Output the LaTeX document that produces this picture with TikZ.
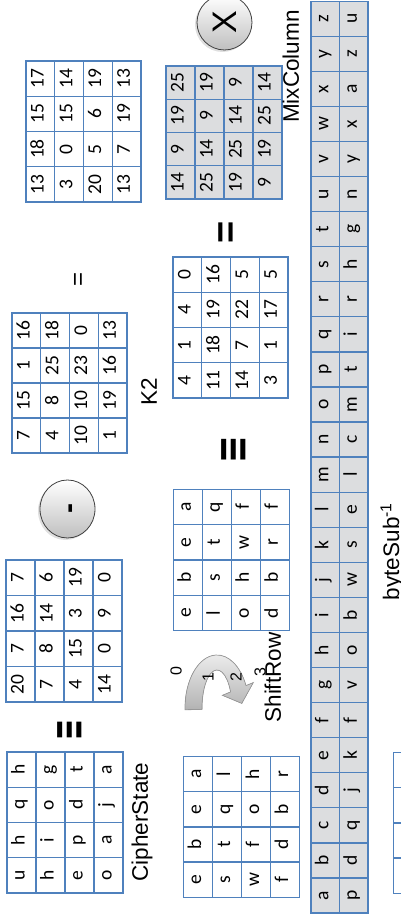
\documentclass[tikz,border=0pt]{standalone}
\usepackage{fontspec}
\setmainfont{Liberation Sans}
\newfontfamily\cellfont{Carlito}
\newfontfamily\symfont{DejaVu Sans}
\usetikzlibrary{shapes.geometric,calc,shadows,arrows.meta}
\definecolor{cellblue}{RGB}{79,129,189}
\definecolor{cellgray}{RGB}{220,221,223}
\tikzset{
  cell/.style={draw=cellblue, line width=1.3pt, inner sep=0pt, anchor=center,
    font=\cellfont\fontsize{19.5}{20}\selectfont, text height=0.64em, text depth=0pt},
  graycell/.style={cell, fill=cellgray},
  whitecell/.style={cell, fill=white},
  lbl/.style={font=\fontsize{22.5}{24}\selectfont, inner sep=0pt, anchor=base},
  rowlbl/.style={font=\fontsize{16}{16}\selectfont, inner sep=0pt, anchor=center},
  opcircle/.style={ellipse, draw=black!75, line width=0.8pt, inner sep=0pt,
    top color=white, bottom color=gray!50,
    drop shadow={opacity=0.25, shadow xshift=-2pt, shadow yshift=-2pt}},
  eqsign/.style={inner sep=0pt, anchor=center},
  eqv/.style={font=\symfont\bfseries\fontsize{44}{44}\selectfont, inner sep=0pt, anchor=center},
}
\newcommand\mygrid[7]{%
  \foreach \rowlist [count=\i] in {#7} {%
    \foreach \val [count=\j] in \rowlist {%
      \node[#6, minimum width=#4 pt, minimum height=#5 pt] (#1-\i-\j)
        at ({#2+(\j-0.5)*#4}, {#3-(\i-0.5)*#5}) {\val};
    }%
  }%
}
\begin{document}
\begin{tikzpicture}[x=1pt,y=1pt,rotate=90,transform shape]
\useasboundingbox (0,0) rectangle (915,400);

% S-box band
\mygrid{sbox}{2}{89}{35.07}{28.5}{graycell}{{a,b,c,d,e,f,g,h,i,j,k,l,m,n,o,p,q,r,s,t,u,v,w,x,y,z},{p,d,q,j,k,f,v,o,b,w,s,e,l,c,m,t,i,r,h,g,n,y,x,a,z,u}}

% CipherState
\mygrid{cs}{22}{393}{35.25}{29}{whitecell}{{u,h,q,h},{h,i,o,g},{e,p,d,t},{o,a,j,a}}
\node[lbl] (cslbl) at (93,252) {CipherState};
\node[eqv, xscale=0.57] (eq1) at (185,329) {≡};

% numeric state
\mygrid{nm}{213}{394}{35.5}{29}{whitecell}{{20,7,16,7},{7,8,14,6},{4,15,3,19},{14,0,9,0}}

% minus
\node[opcircle, minimum width=58pt, minimum height=55pt] (minus) at (406,332.5) {};
\node[eqsign, font=\bfseries\fontsize{30}{30}\selectfont] (minussign) at (406,326.5) {-};

% K2
\mygrid{k2}{462}{388}{35}{28.75}{whitecell}{{7,15,1,16},{4,8,25,18},{10,10,23,0},{1,19,16,13}}
\node[lbl] (k2lbl) at (523.5,243) {K2};
\node[eqsign, font=\fontsize{24}{24}\selectfont] (eqs) at (635,320) {=};

% top result
\mygrid{tr}{713}{374}{35.25}{28.75}{whitecell}{{13,18,15,17},{3,0,15,14},{20,5,6,19},{13,7,19,13}}

% ShiftRow input
\mygrid{sri}{17.7}{216.5}{35.15}{28.95}{whitecell}{{e,b,e,a},{s,t,q,l},{w,f,o,h},{f,d,b,r}}

% ShiftRow arrow
\coordinate (sc) at (207,183);
\filldraw[draw=gray!80, line width=0.7pt, top color=gray!15, bottom color=gray!60]
  ($(sc)+(92:53 and 32)$) arc[start angle=92, end angle=-65, x radius=53, y radius=32]
  -- ($(sc)+(-65:60 and 40)$) -- (211.6,158.2) -- ($(sc)+(-65:30 and 6)$)
  -- ($(sc)+(-65:38 and 15)$) arc[start angle=-65, end angle=92, x radius=38, y radius=15]
  -- cycle;
\node[rowlbl] (r0) at (244,224) {0};
\node[rowlbl] (r1) at (238,192) {1};
\node[rowlbl] (r2) at (238,164) {2};
\node[rowlbl] (r3) at (242.5,140) {3};
\node[lbl] (srlbl) at (237.5,119) {ShiftRow};

% ShiftRow output
\mygrid{sro}{284.3}{226.7}{35.35}{29}{whitecell}{{e,b,e,a},{l,s,t,q},{o,h,w,f},{d,b,r,f}}
\node[eqv, xscale=0.75] (eq2) at (465,165) {≡};

% result
\mygrid{res}{517}{227}{35.25}{28.75}{whitecell}{{4,1,4,0},{11,18,19,16},{14,7,22,5},{3,1,17,5}}
\node[eqsign, font=\bfseries\fontsize{38}{38}\selectfont] (eqb) at (683,171) {=};

% MixColumn
\mygrid{mix}{716}{234}{33.25}{29}{graycell}{{14,9,19,25},{25,14,9,19},{19,25,14,9},{9,19,25,14}}
\node[lbl] (mclbl) at (848.5,101) {MixColumn};
\node[opcircle, minimum width=55pt, minimum height=55pt, font=\fontsize{34}{34}\selectfont] (mul) at (892.5,175.5) {X};

% byteSub^-1
\node[lbl] (bslbl) at (363.5,1) {byteSub\textsuperscript{-1}};

% partially visible grid
\foreach \i in {1,...,4}{\foreach \j in {1,...,4}{
  \node[whitecell, minimum width=35.15pt, minimum height=29pt] (bot-\i-\j)
    at ({21.7+(\j-0.5)*35.15},{6.7-(\i-0.5)*29}) {};
}}
\end{tikzpicture}
\end{document}
